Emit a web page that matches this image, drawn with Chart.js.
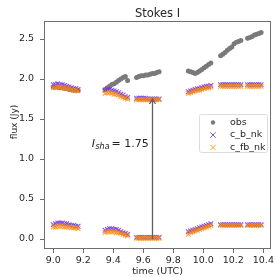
<!DOCTYPE html>
<html>
<head>
<meta charset="utf-8">
<script src="https://cdn.jsdelivr.net/npm/chart.js@4.4.1/dist/chart.umd.min.js"></script>
<style>
    html, body { margin: 0; padding: 0; background: #fff; }
    #chart { display: block; }
</style>
</head>
<body>
<canvas id="chart" width="277" height="277"></canvas>
<script>
// time (UTC, hours) of each sample, six scans
const times = [
    9.000, 9.015, 9.030, 9.045, 9.060, 9.075, 9.090, 9.105, 9.120, 9.135, 9.150, 9.165,
    9.345, 9.360, 9.375, 9.390, 9.405, 9.420, 9.435, 9.450, 9.465, 9.480, 9.495,
    9.555, 9.570, 9.585, 9.600, 9.615, 9.630, 9.645, 9.660, 9.675, 9.690, 9.705,
    9.900, 9.915, 9.930, 9.945, 9.960, 9.975, 9.990, 10.005, 10.020, 10.035, 10.050,
    10.115, 10.130, 10.145, 10.160, 10.175, 10.190, 10.205, 10.220, 10.235, 10.250,
    10.295, 10.310, 10.325, 10.340, 10.355, 10.370, 10.385
];

const obsFlux = [
    1.90, 1.90, 1.90, 1.89, 1.89, 1.88, 1.88, 1.87, 1.87, 1.86, 1.86, 1.86,
    1.87, 1.89, 1.91, 1.93, 1.94, 1.96, 1.98, 2.00, 2.02, 2.03, 1.98,
    2.02, 2.03, 2.04, 2.04, 2.05, 2.05, 2.06, 2.07, 2.07, 2.08, 2.09,
    2.10, 2.09, 2.08, 2.07, 2.08, 2.10, 2.12, 2.14, 2.16, 2.18, 2.20,
    2.29, 2.31, 2.33, 2.36, 2.38, 2.40, 2.44, 2.46, 2.47, 2.48,
    2.51, 2.52, 2.53, 2.55, 2.56, 2.57, 2.58
];

const cbUpper = [
    1.93, 1.93, 1.94, 1.93, 1.93, 1.92, 1.91, 1.90, 1.89, 1.88, 1.88, 1.87,
    1.86, 1.87, 1.87, 1.86, 1.85, 1.84, 1.83, 1.81, 1.80, 1.78, 1.77,
    1.76, 1.76, 1.76, 1.76, 1.76, 1.75, 1.75, 1.75, 1.75, 1.75, 1.75,
    1.84, 1.85, 1.86, 1.87, 1.88, 1.88, 1.89, 1.90, 1.91, 1.91, 1.92,
    1.93, 1.93, 1.93, 1.93, 1.93, 1.93, 1.93, 1.93, 1.93, 1.93,
    1.93, 1.93, 1.93, 1.93, 1.93, 1.93, 1.93
];

const cfbUpper = [
    1.89, 1.89, 1.90, 1.90, 1.89, 1.89, 1.88, 1.88, 1.87, 1.86, 1.86, 1.85,
    1.82, 1.83, 1.83, 1.82, 1.81, 1.81, 1.80, 1.78, 1.77, 1.76, 1.75,
    1.74, 1.74, 1.74, 1.74, 1.74, 1.74, 1.74, 1.74, 1.74, 1.74, 1.74,
    1.82, 1.83, 1.84, 1.85, 1.86, 1.86, 1.87, 1.88, 1.89, 1.89, 1.90,
    1.91, 1.91, 1.91, 1.91, 1.91, 1.91, 1.91, 1.91, 1.91, 1.91,
    1.91, 1.91, 1.91, 1.91, 1.91, 1.91, 1.91
];

const cbLower = [
    0.18, 0.19, 0.20, 0.20, 0.20, 0.19, 0.19, 0.18, 0.17, 0.17, 0.16, 0.16,
    0.11, 0.12, 0.13, 0.13, 0.12, 0.12, 0.11, 0.09, 0.08, 0.07, 0.06,
    0.02, 0.02, 0.02, 0.02, 0.02, 0.02, 0.02, 0.02, 0.02, 0.02, 0.02,
    0.09, 0.10, 0.11, 0.12, 0.13, 0.14, 0.15, 0.16, 0.17, 0.18, 0.19,
    0.18, 0.18, 0.18, 0.18, 0.18, 0.18, 0.18, 0.18, 0.18, 0.18,
    0.18, 0.18, 0.18, 0.18, 0.18, 0.18, 0.18
];

const cfbLower = [
    0.15, 0.15, 0.16, 0.16, 0.16, 0.15, 0.15, 0.15, 0.14, 0.14, 0.14, 0.13,
    0.08, 0.09, 0.09, 0.09, 0.09, 0.08, 0.08, 0.07, 0.06, 0.05, 0.04,
    0.01, 0.01, 0.01, 0.01, 0.01, 0.01, 0.01, 0.01, 0.01, 0.01, 0.01,
    0.06, 0.08, 0.09, 0.10, 0.11, 0.12, 0.13, 0.14, 0.15, 0.16, 0.17,
    0.17, 0.17, 0.17, 0.17, 0.17, 0.17, 0.17, 0.17, 0.17, 0.17,
    0.17, 0.17, 0.17, 0.17, 0.17, 0.17, 0.17
];

const xTicks = [9.0, 9.2, 9.4, 9.6, 9.8, 10.0, 10.2, 10.4];
const xTickLabels = ['9.0', '9.2', '9.4', '9.6', '9.8', '10.0', '10.2', '10.4'];
const yTicks = [0.0, 0.5, 1.0, 1.5, 2.0, 2.5];
const yTickLabels = ['0.0', '0.5', '1.0', '1.5', '2.0', '2.5'];

// arrow showing the shadow flux
const arrowTime = 9.66;
const arrowFrom = 0.0;
const arrowTo = 1.75;
const annotTime = 9.256;
const annotFlux = 1.2;

const FRAME = '#6e6e6e';
const TEXT = '#262626';
const OBS_COLOR = '#7a7a7a';
const CB_COLOR = 'rgba(115, 55, 225, 0.85)';
const CFB_COLOR = 'rgba(255, 140, 0, 0.8)';

Chart.defaults.font.family = "'DejaVu Sans', sans-serif";
Chart.defaults.color = TEXT;

function toPoints(values) {
    return times.map((t, i) => ({ x: t, y: values[i] }));
}

const frameAndNotes = {
    id: 'frameAndNotes',
    afterDatasetsDraw(chart) {
        const ctx = chart.ctx;
        const xs = chart.scales.x;
        const ys = chart.scales.y;
        const area = chart.chartArea;

        // arrow
        const ax = Math.round(xs.getPixelForValue(arrowTime)) + 0.5;
        const y0 = ys.getPixelForValue(arrowFrom);
        const y1 = ys.getPixelForValue(arrowTo);
        ctx.save();
        ctx.strokeStyle = '#606060';
        ctx.lineWidth = 1.3;
        ctx.beginPath();
        ctx.moveTo(ax, y0);
        ctx.lineTo(ax, y1);
        ctx.moveTo(ax - 3, y1 + 5);
        ctx.lineTo(ax, y1);
        ctx.lineTo(ax + 3, y1 + 5);
        ctx.stroke();

        // I_sha label
        let tx = xs.getPixelForValue(annotTime);
        const ty = ys.getPixelForValue(annotFlux);
        ctx.fillStyle = TEXT;
        ctx.textBaseline = 'alphabetic';
        ctx.textAlign = 'left';
        ctx.font = "italic 11px 'DejaVu Sans'";
        ctx.fillText('I', tx, ty + 4);
        tx += ctx.measureText('I').width + 0.5;
        ctx.font = "italic 8px 'DejaVu Sans'";
        ctx.fillText('sha', tx, ty + 6);
        tx += ctx.measureText('sha').width + 2;
        ctx.font = "11px 'DejaVu Sans'";
        ctx.fillText('= 1.75', tx, ty + 4);

        // frame
        ctx.strokeStyle = FRAME;
        ctx.lineWidth = 1;
        ctx.strokeRect(Math.round(area.left) + 0.5, Math.round(area.top) + 0.5,
            Math.round(area.right - area.left) - 1, Math.round(area.bottom - area.top) - 1);

        // title
        ctx.fillStyle = TEXT;
        ctx.font = "11.5px 'DejaVu Sans'";
        ctx.textAlign = 'center';
        ctx.textBaseline = 'middle';
        ctx.fillText('Stokes I', (area.left + area.right) / 2, 14);

        // y axis label
        ctx.save();
        ctx.translate(14.5, 122);
        ctx.rotate(-Math.PI / 2);
        ctx.font = "9px 'DejaVu Sans'";
        ctx.fillText('flux (Jy)', 0, 0);
        ctx.restore();

        // legend
        const bx = area.right - 72;
        const by = area.top + 93;
        const bw = 68;
        const bh = 38;
        ctx.strokeStyle = '#dcdcdc';
        ctx.fillStyle = 'rgba(255,255,255,0.8)';
        ctx.beginPath();
        ctx.roundRect(bx + 0.5, by + 0.5, bw, bh, 2);
        ctx.fill();
        ctx.stroke();
        const entries = chart.data.datasets.filter(d => d.showInLegend);
        entries.sort((a, b) => a.legendRank - b.legendRank);
        entries.forEach((d, i) => {
            const ey = by + 8.5 + i * 12.5;
            const mx = bx + 14;
            ctx.fillStyle = d.pointBackgroundColor;
            ctx.strokeStyle = d.pointBorderColor;
            if (d.pointStyle === 'circle') {
                ctx.beginPath();
                ctx.arc(mx, ey, 2.2, 0, Math.PI * 2);
                ctx.fill();
            } else {
                ctx.lineWidth = 1;
                ctx.beginPath();
                ctx.moveTo(mx - 2.7, ey - 2.7);
                ctx.lineTo(mx + 2.7, ey + 2.7);
                ctx.moveTo(mx - 2.7, ey + 2.7);
                ctx.lineTo(mx + 2.7, ey - 2.7);
                ctx.stroke();
            }
            ctx.fillStyle = TEXT;
            ctx.font = "9.5px 'DejaVu Sans'";
            ctx.textAlign = 'left';
            ctx.textBaseline = 'middle';
            ctx.fillText(d.label, bx + 31, ey);
        });
        ctx.restore();
    }
};

function crossSet(label, values, color, order, inLegend, rank) {
    return {
        label: label,
        data: toPoints(values),
        pointStyle: 'crossRot',
        pointRadius: 3.3,
        pointBorderWidth: 1.1,
        pointBorderColor: color,
        pointBackgroundColor: color,
        order: order,
        showInLegend: inLegend,
        legendRank: rank
    };
}

new Chart(document.getElementById('chart'), {
    type: 'scatter',
    data: {
        datasets: [
            crossSet('c_fb_nk', cfbUpper, CFB_COLOR, 0, true, 2),
            crossSet('c_fb_nk', cfbLower, CFB_COLOR, 1, false, 2),
            crossSet('c_b_nk', cbUpper, CB_COLOR, 2, true, 1),
            crossSet('c_b_nk', cbLower, CB_COLOR, 3, false, 1),
            {
                label: 'obs',
                data: toPoints(obsFlux),
                pointStyle: 'circle',
                pointRadius: 2.5,
                pointBorderWidth: 0,
                pointBackgroundColor: OBS_COLOR,
                pointBorderColor: OBS_COLOR,
                order: 4,
                showInLegend: true,
                legendRank: 0
            }
        ]
    },
    options: {
        responsive: false,
        animation: false,
        devicePixelRatio: 1,
        layout: { padding: { top: 21, right: 6, left: 0, bottom: 0 } },
        scales: {
            x: {
                type: 'linear',
                min: 8.938,
                max: 10.451,
                afterBuildTicks: scale => { scale.ticks = xTicks.map(v => ({ value: v })); },
                afterFit: scale => { scale.height = 28; },
                border: { display: false },
                grid: { drawOnChartArea: false, drawTicks: true, tickLength: 4, color: FRAME },
                ticks: {
                    padding: 2,
                    maxRotation: 0,
                    autoSkip: false,
                    font: { size: 9.5 },
                    color: TEXT,
                    callback: (value, index) => xTickLabels[index]
                },
                title: { display: true, text: 'time (UTC)', font: { size: 9.5 }, color: TEXT, padding: { top: 0, bottom: 0 } }
            },
            y: {
                type: 'linear',
                min: -0.125,
                max: 2.725,
                afterBuildTicks: scale => { scale.ticks = yTicks.map(v => ({ value: v })); },
                afterFit: scale => { scale.width = 44; },
                border: { display: false },
                grid: { drawOnChartArea: false, drawTicks: true, tickLength: 4, color: FRAME },
                ticks: {
                    padding: 6,
                    autoSkip: false,
                    font: { size: 9.5 },
                    color: TEXT,
                    callback: (value, index) => yTickLabels[index]
                },
                title: { display: false }
            }
        },
        plugins: {
            legend: { display: false },
            title: { display: false },
            tooltip: { enabled: false }
        }
    },
    plugins: [frameAndNotes]
});
</script>
</body>
</html>
